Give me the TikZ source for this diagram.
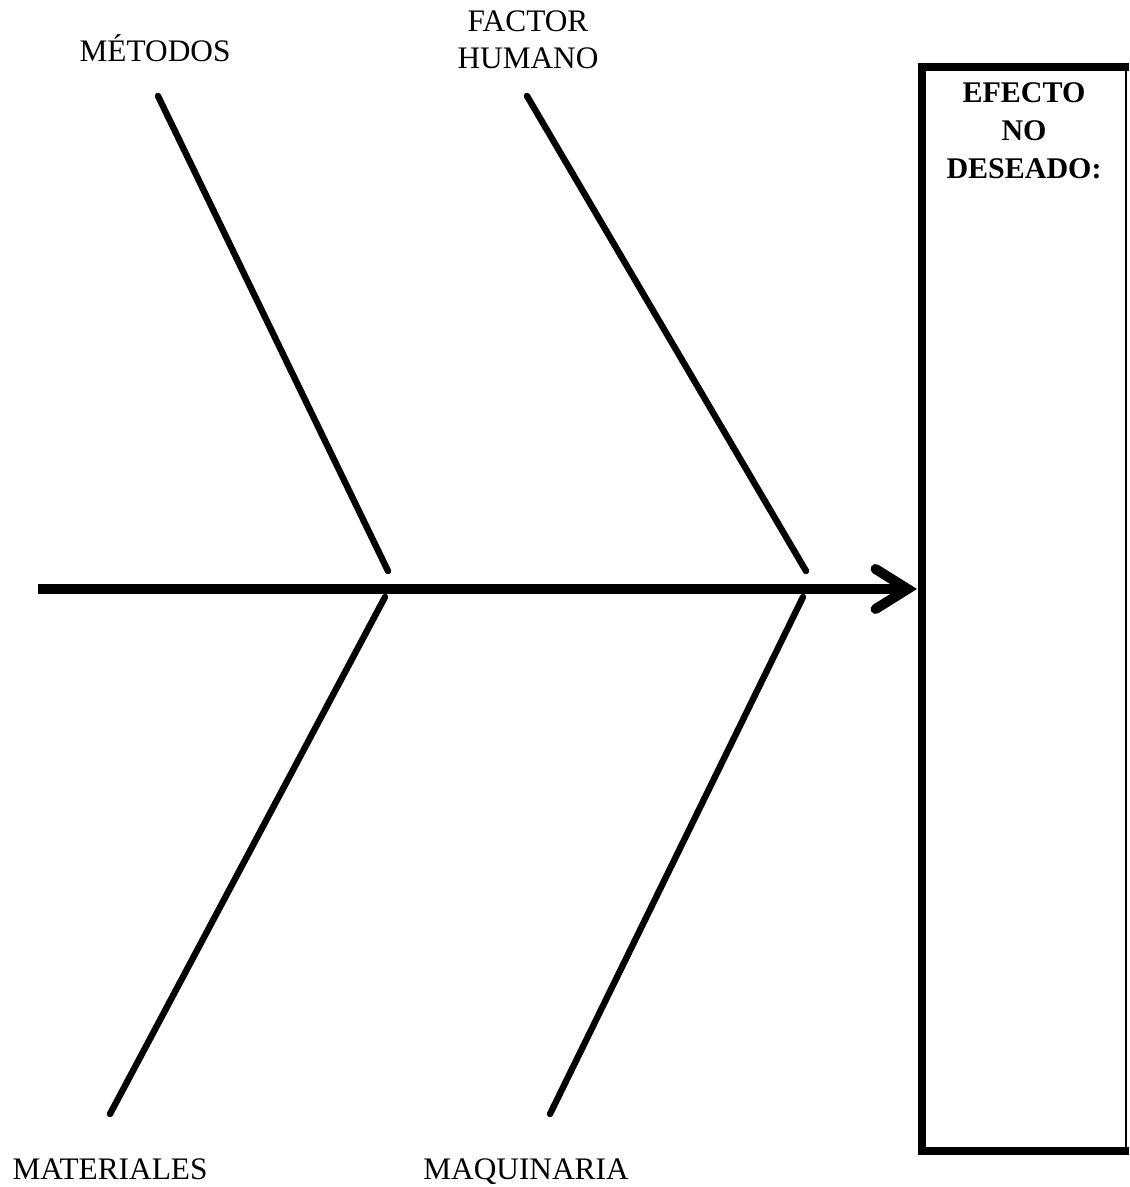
\documentclass[tikz,border=0pt]{standalone}
\usepackage{fontspec}
\setmainfont{Liberation Serif}
\usetikzlibrary{arrows.meta}

\tikzset{every picture/.style={line width=0.75pt}}
\tikzset{
  bone/.style={line width=4.8pt, line cap=round},
  spine/.style={line width=7.5pt, -{Straight Barb[length=24pt, width=30pt, line cap=round]}},
  causa/.style={inner sep=0.75pt, align=center, font=\fontsize{23.5}{27.5}\selectfont},
  efecto/.style={inner sep=0.75pt, align=center, font=\fontsize{22.5}{28.5}\selectfont\bfseries}
}

\begin{document}
\begin{tikzpicture}[x=0.75pt,y=0.75pt,yscale=-1,xscale=1]
\useasboundingbox (0,0) rectangle (1129,1187);

%Shape: Rectangle (effect box)
\draw [line width=6pt] (1129,67) -- (922,67) -- (922,1151) -- (1129,1151) ;
\draw [line width=1.5pt] (1126,67) -- (1126,1151) ;

%Coordinates of the bones
\coordinate (tail) at (38,589) ;
\coordinate (head) at (917,589) ;
\coordinate (m1) at (158,96) ;
\coordinate (m2) at (388,571) ;
\coordinate (f1) at (527,96) ;
\coordinate (f2) at (806,571) ;
\coordinate (t1) at (385,597) ;
\coordinate (t2) at (110,1114) ;
\coordinate (q1) at (803,597) ;
\coordinate (q2) at (550,1114) ;

%Straight Lines (spine)
\draw [spine] (tail) -- (head) ;
%Straight Lines (bones)
\draw [bone] (m1) -- (m2) ;
\draw [bone] (f1) -- (f2) ;
\draw [bone] (t1) -- (t2) ;
\draw [bone] (q1) -- (q2) ;

% Text Node
\node (metodos) [causa] at (155,48) {MÉTODOS};
% Text Node
\node (factor) [causa] at (528,40) {FACTOR\\HUMANO};
% Text Node
\node (materiales) [causa, anchor=base] at (110,1179) {MATERIALES};
% Text Node
\node (maquinaria) [causa, anchor=base] at (526,1179) {MAQUINARIA};
% Text Node
\node (deseado) [efecto] at (1024,131) {EFECTO\\NO\\DESEADO:};

\end{tikzpicture}
\end{document}
